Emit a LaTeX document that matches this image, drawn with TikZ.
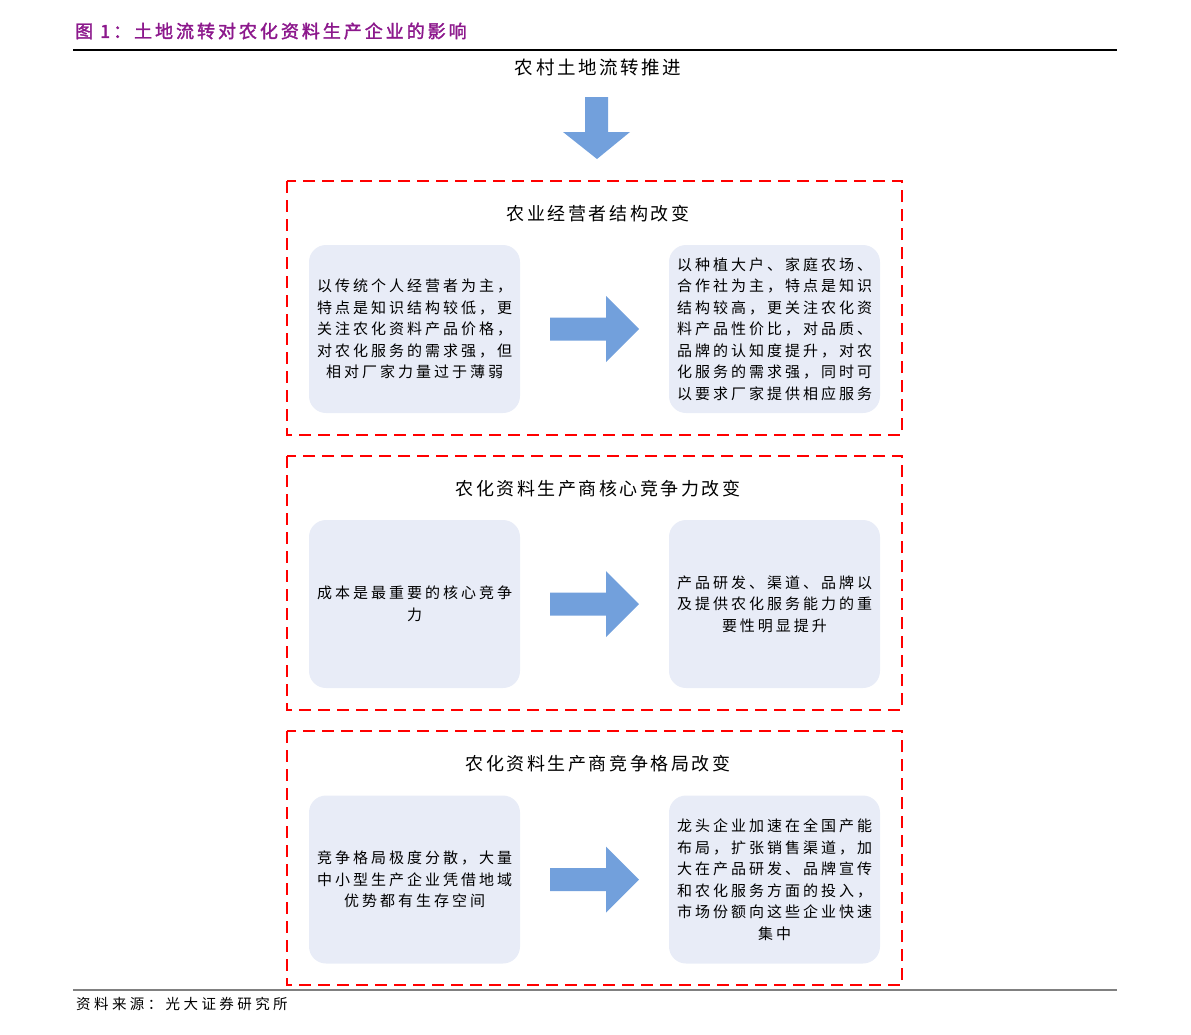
\documentclass[tikz,border=0pt]{standalone}
\usepackage{fontspec}
\newfontfamily\cjk[LetterSpace=20]{Noto Sans CJK SC}
\newfontfamily\cjkf[LetterSpace=23.5]{Noto Sans CJK SC}
\newfontfamily\cjkh[LetterSpace=14]{Noto Sans CJK SC}
\newfontfamily\cjkt[LetterSpace=16.5,FakeBold=1.8]{Noto Sans CJK SC}
\definecolor{arrowblue}{RGB}{114,160,220}
\definecolor{boxfill}{RGB}{232,236,247}
\definecolor{titlepurple}{RGB}{140,24,140}
\tikzset{
  panel/.style={draw=red, line width=1.8pt, dash pattern=on 12pt off 7pt},
  card/.style={fill=boxfill, rounded corners=17pt, minimum width=211pt, minimum height=168pt, inner sep=0pt, align=center, font=\cjk\fontsize{15}{21.5}\selectfont},
  heading/.style={font=\cjkh\fontsize{18}{22}\selectfont, inner sep=0pt},
  bigarrow/.style={fill=arrowblue, draw=none}
}
\newcommand{\rarrow}[1]{%
  \fill[arrowblue] (550,#1-11.5) -- (606,#1-11.5) -- (606,#1-33) -- (639,#1) -- (606,#1+33) -- (606,#1+11.5) -- (550,#1+11.5) -- cycle;}
\begin{document}
\begin{tikzpicture}[x=1pt,y=-1pt]
\useasboundingbox (0,0) rectangle (1191,1034);
% title
\node[anchor=west, inner sep=0pt, text=titlepurple, font=\cjkt\fontsize{18}{22}\selectfont] (title) at (75,31) {图 1：土地流转对农化资料生产企业的影响};
\draw[line width=1.2pt] (73,50) -- (1117,50);
% top label and arrow
\node[heading, font=\cjkh\fontsize{18.5}{22}\selectfont] (start) at (598,67) {农村土地流转推进};
\fill[arrowblue] (585,97) -- (608,97) -- (608,132) -- (630,132) -- (597,159) -- (563,132) -- (585,132) -- cycle;
% panel 1
\draw[panel] (287,181) rectangle (902,435);
\node[heading] (h1) at (598,214) {农业经营者结构改变};
\node[card] (l1) at (414.5,329) {以传统个人经营者为主，\\特点是知识结构较低，更\\关注农化资料产品价格，\\对农化服务的需求强，但\\相对厂家力量过于薄弱};
\node[card] (r1) at (774.5,329) {以种植大户、家庭农场、\\合作社为主，特点是知识\\结构较高，更关注农化资\\料产品性价比，对品质、\\品牌的认知度提升，对农\\化服务的需求强，同时可\\以要求厂家提供相应服务};
\rarrow{329}
% panel 2
\draw[panel] (287,456) rectangle (902,710);
\node[heading] (h2) at (598,489) {农化资料生产商核心竞争力改变};
\node[card] (l2) at (414.5,604) {成本是最重要的核心竞争\\力};
\node[card] (r2) at (774.5,604) {产品研发、渠道、品牌以\\及提供农化服务能力的重\\要性明显提升};
\rarrow{604}
% panel 3
\draw[panel] (287,731) rectangle (902,985);
\node[heading] (h3) at (598,764) {农化资料生产商竞争格局改变};
\node[card] (l3) at (414.5,879.5) {竞争格局极度分散，大量\\中小型生产企业凭借地域\\优势都有生存空间};
\node[card] (r3) at (774.5,879.5) {龙头企业加速在全国产能\\布局，扩张销售渠道，加\\大在产品研发、品牌宣传\\和农化服务方面的投入，\\市场份额向这些企业快速\\集中};
\rarrow{879.5}
% footer
\draw[line width=1.5pt, gray] (73,990) -- (1117,990);
\node[anchor=west, inner sep=0pt, font=\cjkf\fontsize{14.5}{18}\selectfont] (src) at (76,1004) {资料来源：光大证券研究所};
\end{tikzpicture}
\end{document}
